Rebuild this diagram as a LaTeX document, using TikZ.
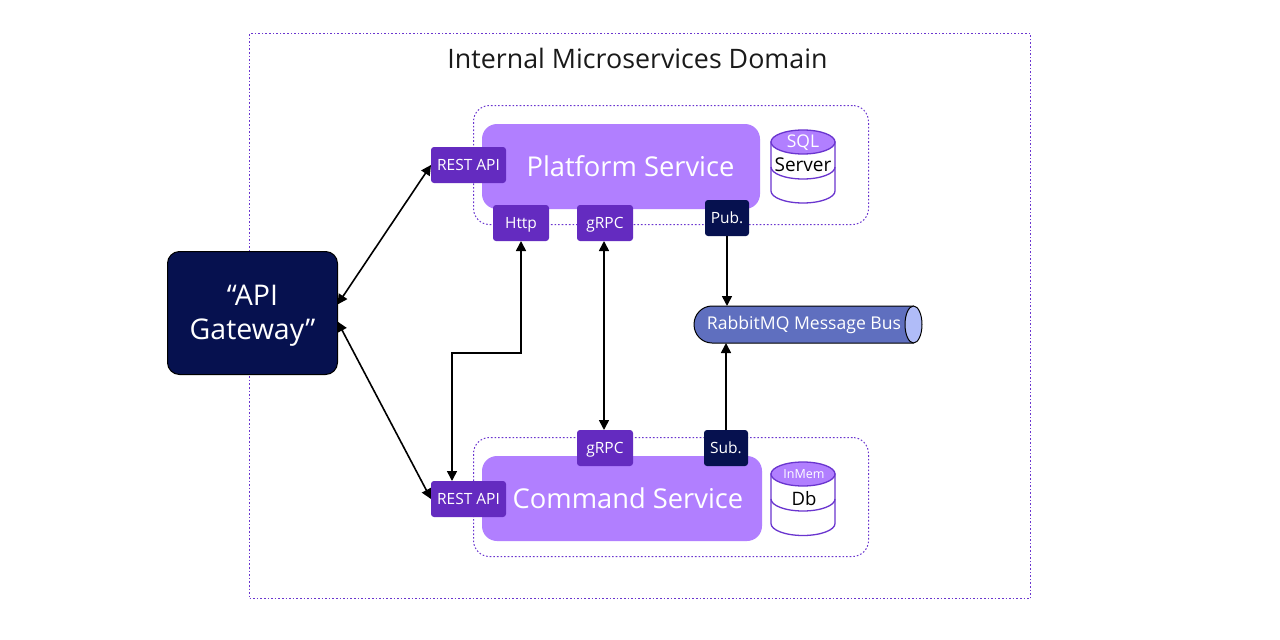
\documentclass[tikz,border=0pt]{standalone}
\usepackage{fontspec}
\setmainfont{Open Sans}
\usetikzlibrary{arrows.meta,positioning}
\definecolor{svc}{HTML}{B17FFF}
\definecolor{port}{HTML}{642BC0}
\definecolor{navy}{HTML}{06114F}
\definecolor{busc}{HTML}{5F6FBF}
\definecolor{buse}{HTML}{B0BCF8}
\definecolor{dash}{HTML}{6A35CF}
\definecolor{ink}{HTML}{1A1A1A}
\newcommand{\fs}[1]{\fontsize{#1}{#1}\selectfont}
\tikzset{
  box/.style={inner sep=0pt,outer sep=0pt,align=center,anchor=north west},
  zone/.style={box,draw=dash,line width=1pt,dash pattern=on 1.6pt off 2pt},
  service/.style={box,fill=svc,text=white,rounded corners=15pt,font=\fs{27.3}},
  portbox/.style={box,fill=port,text=white,rounded corners=3pt,minimum height=36pt,text height=11pt,text depth=0pt,font=\fs{15.5}},
  navybox/.style={portbox,fill=navy},
  link/.style={line width=1.6pt,black,{Triangle[length=10pt,width=10pt]}-{Triangle[length=10pt,width=10pt]}},
  oneway/.style={line width=1.6pt,black,-{Triangle[length=10pt,width=10pt]}},
  dbline/.style={draw=dash,line width=1.3pt},
  lbl/.style={inner sep=0pt,outer sep=0pt,anchor=center}
}
\begin{document}
\begin{tikzpicture}[x=1pt,y=-1pt]
\useasboundingbox (0,0) rectangle (1280,640);
\fill[white] (0,0) rectangle (1280,640);
% outer domain
\node[zone,minimum width=781pt,minimum height=565pt] (outer) at (249.5,33.5) {};
\node[lbl,text=ink,font=\fs{26.8}] (title) at (637.5,58) {Internal Microservices Domain};
% zones
\node[zone,rounded corners=16pt,minimum width=395pt,minimum height=119pt] (zone1) at (473.5,105.5) {};
\node[zone,rounded corners=16pt,minimum width=395pt,minimum height=119pt] (zone2) at (473.5,437.5) {};
% services
\node[service,minimum width=278pt,minimum height=85pt] (platform) at (482,124) {\hspace*{19pt}Platform Service};
\node[service,minimum width=280pt,minimum height=85pt] (command) at (482,456) {\hspace*{12pt}Command Service};
% gateway
\node[box,fill=navy,draw=black,line width=1pt,rounded corners=12pt,minimum width=170pt,minimum height=123pt] (gw) at (167.5,251.5) {};
\node[lbl,align=center,text=white,font=\fs{28.5},text width=170pt] (gwlabel) at (252.5,315.5) {“API\\[5pt]Gateway”};
% ports
\node[portbox,minimum width=75pt] (rest1) at (431,147) {REST API};
\node[portbox,minimum width=75pt] (rest2) at (431,481) {REST API};
\node[portbox,minimum width=56pt] (http) at (493,205) {Http};
\node[portbox,minimum width=56pt] (grpc1) at (577,205) {gRPC};
\node[portbox,minimum width=56pt] (grpc2) at (577,430) {gRPC};
\node[navybox,minimum width=44pt] (pub) at (705,200) {Pub.};
\node[navybox,minimum width=44pt] (sub) at (704,430) {Sub.};
% SQL cylinder
\draw[dbline,fill=white] (771,142) -- (771,191) arc[start angle=180,end angle=0,x radius=32,y radius=12] -- (835,142) -- cycle;
\draw[dbline] (771,167) arc[start angle=180,end angle=0,x radius=32,y radius=12];
\draw[dbline,fill=svc] (803,142) ellipse[x radius=32,y radius=12];
\node[lbl,text=white,font=\fs{17.5}] (sql) at (803,142.5) {SQL};
\node[lbl,text=black,font=\fs{19}] (server) at (803,165) {Server};
% InMem cylinder
\draw[dbline,fill=white] (771,474) -- (771,523.5) arc[start angle=180,end angle=0,x radius=32,y radius=12] -- (835,474) -- cycle;
\draw[dbline] (771,499) arc[start angle=180,end angle=0,x radius=32,y radius=12];
\draw[dbline,fill=svc] (803,474) ellipse[x radius=32,y radius=12];
\node[lbl,text=white,font=\fs{12.5}] (inmem) at (804,474.5) {InMem};
\node[lbl,text=black,font=\fs{18.5}] (db) at (804,499) {Db};
% bus
\draw[black,line width=1pt,fill=busc] (913.5,306) -- (712,306) arc[start angle=270,end angle=90,x radius=18,y radius=18.5] -- (913.5,343);
\draw[black,line width=1pt,fill=buse] (913.5,324.5) ellipse[x radius=8.5,y radius=18.5];
\node[box,minimum width=228pt,minimum height=37pt] (bus) at (694,306) {};
\node[lbl,text=white,font=\fs{17.6}] (buslabel) at (804,325) {RabbitMQ Message Bus};
% connectors
\draw[link] ([yshift=8.5pt]gw.east) -- (rest1.west);
\draw[link] ([yshift=-8.5pt]gw.east) -- (rest2.west);
\coordinate (bend) at (452,353);
\draw[link] (http.south) -- (http.south |- bend) -- (bend) -- (bend |- rest2.north);
\draw[link] ([xshift=-1pt]grpc1.south) -- ([xshift=-1pt]grpc2.north);
\draw[oneway] (pub.south) -- (pub.south |- bus.north);
\draw[oneway] (sub.north) -- (sub.north |- bus.south);
\end{tikzpicture}
\end{document}
